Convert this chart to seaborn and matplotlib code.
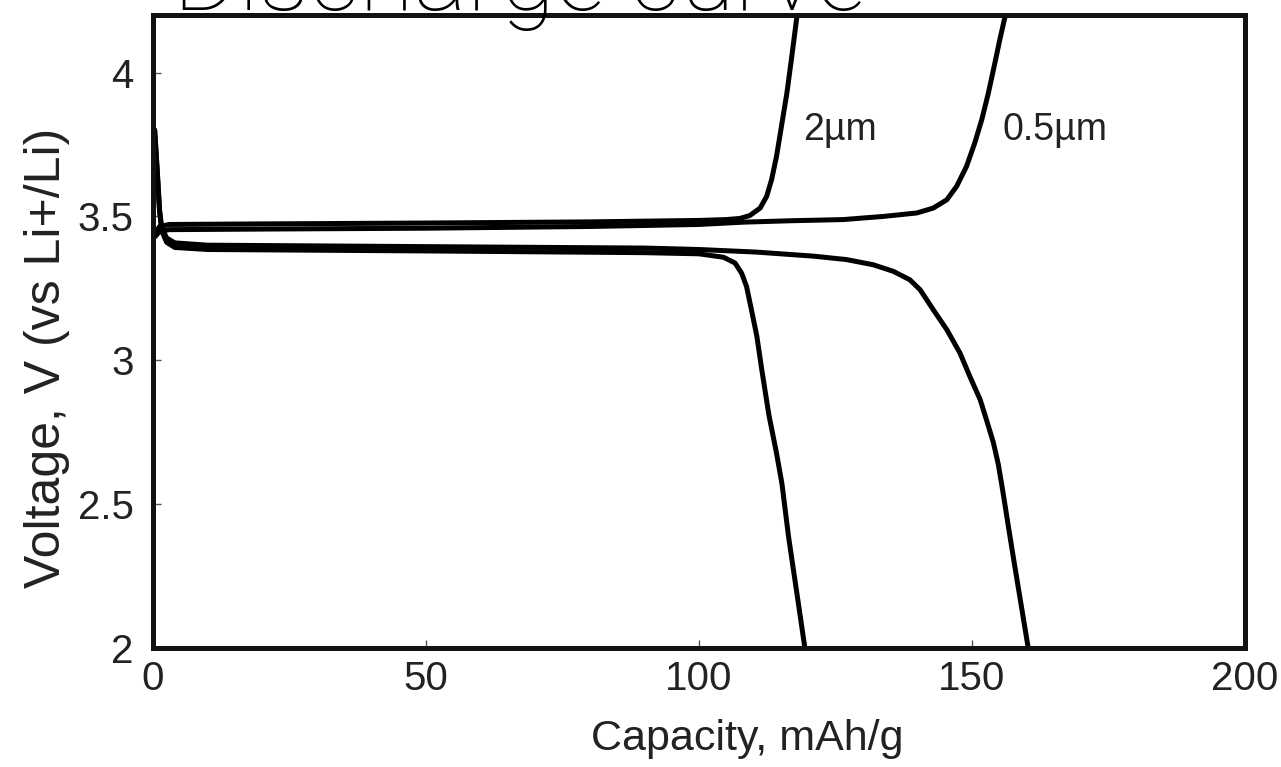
import numpy as np
import pandas as pd
import matplotlib
matplotlib.use("Agg")
import matplotlib.pyplot as plt
import seaborn as sns

# Charge / discharge curves of LiFePO4 for two particle sizes
charge_2um_cap = [0.4, 1.2, 3, 20, 50, 80, 100, 105, 107.5, 109.3, 111.2, 112.4, 113.3,
                  114.2, 115.1, 116.1, 117.0, 117.9, 118.4]
charge_2um_v = [3.44, 3.465, 3.472, 3.474, 3.477, 3.481, 3.486, 3.489, 3.493, 3.503, 3.529,
                3.570, 3.628, 3.709, 3.813, 3.929, 4.057, 4.190, 4.26]

charge_05um_cap = [0.4, 1.2, 3, 20, 50, 80, 100, 108.1, 117, 126.4, 133.8, 139.9, 142.9,
                   145.4, 147.2, 149.0, 150.5, 151.8, 153.0, 154.2, 155.1, 156.0, 156.5]
charge_05um_v = [3.43, 3.448, 3.454, 3.456, 3.459, 3.465, 3.472, 3.480, 3.485, 3.489, 3.50,
                 3.512, 3.529, 3.558, 3.605, 3.674, 3.755, 3.837, 3.929, 4.034, 4.115,
                 4.190, 4.25]

discharge_2um_cap = [0.3, 0.8, 1.2, 1.6, 2.5, 4, 10, 50, 90, 100, 104.5, 106.6, 107.8,
                     108.7, 109.6, 110.6, 111.5, 112.8, 114.2, 115.2, 116.4, 118.2, 119.4]
discharge_2um_v = [3.80, 3.65, 3.52, 3.45, 3.41, 3.392, 3.385, 3.380, 3.374, 3.370, 3.358,
                   3.338, 3.303, 3.257, 3.176, 3.083, 2.967, 2.81, 2.677, 2.57, 2.387,
                   2.155, 1.999]

discharge_05um_cap = [0.3, 0.8, 1.2, 1.6, 2.5, 4, 10, 50, 90, 100, 110.5, 120.9, 127.0,
                      131.9, 135.6, 138.6, 140.5, 142.9, 145.4, 147.8, 149.6, 151.5, 152.7,
                      153.9, 154.8, 155.6, 156.6, 157.7, 159.0, 160.3]
discharge_05um_v = [3.80, 3.65, 3.52, 3.46, 3.425, 3.408, 3.400, 3.395, 3.390, 3.385, 3.376,
                    3.362, 3.35, 3.332, 3.309, 3.28, 3.245, 3.176, 3.106, 3.025, 2.944,
                    2.863, 2.79, 2.715, 2.64, 2.55, 2.43, 2.30, 2.15, 2.0]

curve_labels = ["2µm", "0.5µm"]
x_ticks = [0, 50, 100, 150, 200]
y_ticks = [2, 2.5, 3, 3.5, 4]
y_tick_labels = ["2", "2.5", "3", "3.5", "4"]

frames = []
for name, cap, v in [
    ("charge 2um", charge_2um_cap, charge_2um_v),
    ("charge 0.5um", charge_05um_cap, charge_05um_v),
    ("discharge 2um", discharge_2um_cap, discharge_2um_v),
    ("discharge 0.5um", discharge_05um_cap, discharge_05um_v),
]:
    frames.append(pd.DataFrame({"capacity": cap, "voltage": v, "curve": name}))
df = pd.concat(frames, ignore_index=True)

sns.set_theme(style="ticks")
plt.rcParams["font.family"] = ["Liberation Sans", "DejaVu Sans"]

fig = plt.figure(figsize=(12.81, 7.67), dpi=100, facecolor="white")
ax = fig.add_axes([153 / 1281, 1 - 648 / 767, 1092 / 1281, 633 / 767])
ax.set_facecolor("white")

sns.lineplot(data=df, x="capacity", y="voltage", units="curve", estimator=None,
             sort=False, color="black", linewidth=3.6, ax=ax, legend=False,
             solid_capstyle="round", solid_joinstyle="round")

ax.set_xlim(0, 200)
ax.set_ylim(2, 4.2)
ax.set_xticks(x_ticks)
ax.set_xticklabels([str(t) for t in x_ticks])
ax.set_yticks(y_ticks)
ax.set_yticklabels(y_tick_labels)

for side in ["left", "right", "top", "bottom"]:
    ax.spines[side].set_visible(True)
    ax.spines[side].set_linewidth(3.6)
    ax.spines[side].set_color("#111111")

ax.tick_params(axis="both", direction="in", length=6, width=1.0, color="#555555",
               labelsize=29, labelcolor="#222222")
ax.tick_params(axis="x", pad=9)
ax.tick_params(axis="y", pad=14)

ax.set_xlabel("Capacity, mAh/g", fontsize=31, color="#222222")
ax.set_ylabel("Voltage, V (vs Li+/Li)", fontsize=36, color="#222222")
ax.xaxis.set_label_coords(0.544, -0.112)
ax.yaxis.set_label_coords(-0.076, 0.458)

ax.text(119.0, 3.767, curve_labels[0], fontsize=27, color="#222222",
        ha="left", va="baseline")
ax.text(155.5, 3.767, curve_labels[1], fontsize=27, color="#222222",
        ha="left", va="baseline")

fig.suptitle("Discharge curve", x=520 / 1281, y=1 - 10 / 767, ha="center",
             va="baseline", fontsize=72, fontfamily=["Roboto", "DejaVu Sans"],
             fontweight="light", color="black")

fig.savefig("out.png", dpi=100, facecolor="white")
